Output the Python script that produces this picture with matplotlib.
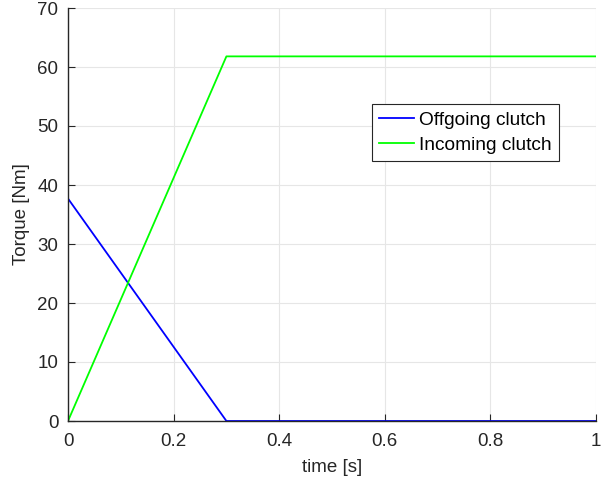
import matplotlib
matplotlib.use("Agg")
import matplotlib.pyplot as plt

time_off = [0, 0.3, 1.0]
torque_off = [37.7, 0, 0]
time_in = [0, 0.3, 1.0]
torque_in = [0, 61.8, 61.8]
xticks = [0, 0.2, 0.4, 0.6, 0.8, 1]
yticks = [0, 10, 20, 30, 40, 50, 60, 70]

plt.rcParams['font.family'] = ['Liberation Sans', 'DejaVu Sans']
fig = plt.figure(figsize=(6.08, 4.83), dpi=100)
ax = fig.add_axes([68/608, 62/483, 528/608, 413/483])
tc = '#262626'
ax.plot(time_off, torque_off, color='#0000ff', lw=1.3, label='Offgoing clutch')
ax.plot(time_in, torque_in, color='#00ff00', lw=1.3, label='Incoming clutch')
ax.set_xlim(0, 1)
ax.set_ylim(0, 70)
ax.set_xticks(xticks)
ax.set_xticklabels(['0', '0.2', '0.4', '0.6', '0.8', '1'])
ax.set_yticks(yticks)
ax.grid(True, color='#e6e6e6', lw=0.8)
ax.set_axisbelow(True)
for s in ['top', 'right']:
    ax.spines[s].set_visible(False)
for s in ['left', 'bottom']:
    ax.spines[s].set_color(tc)
    ax.spines[s].set_linewidth(1.0)
ax.tick_params(direction='in', length=5, colors=tc, labelsize=13.5)
ax.tick_params(axis='x', pad=9)
ax.tick_params(axis='y', pad=7)
ax.set_xlabel('time [s]', fontsize=13.5, color=tc, labelpad=6)
ax.set_ylabel('Torque [Nm]', fontsize=13.5, color=tc, labelpad=5)
leg = ax.legend(loc='upper left', bbox_to_anchor=(0.576, 0.768), fontsize=13.8,
                frameon=True, fancybox=False, edgecolor=tc, framealpha=1,
                handlelength=1.8, borderpad=0.38, labelspacing=0.42, handletextpad=0.26,
                borderaxespad=0)
leg.get_frame().set_linewidth(0.8)
for t in leg.get_texts():
    t.set_color('black')
fig.savefig('out.png', dpi=100)
